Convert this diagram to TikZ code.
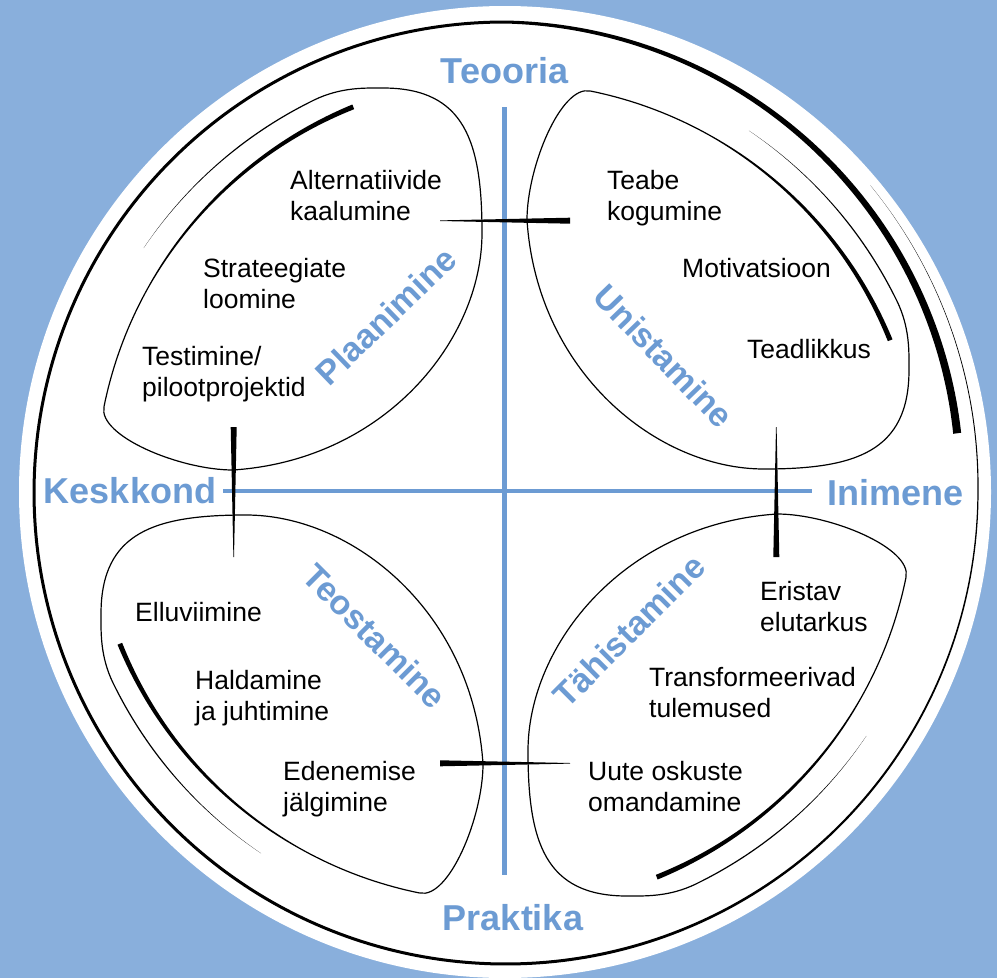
\documentclass[tikz,border=0pt]{standalone}
\usepackage{fontspec}
\setmainfont{Liberation Sans}
\definecolor{bgblue}{RGB}{137,175,220}
\definecolor{lblue}{RGB}{108,155,211}
\newcommand\twoline[2]{\begin{tabular}[t]{@{}l@{}}#1\\#2\end{tabular}}
\newcommand\leafspiral{%
  \fill plot[domain=146:116, samples=40] ({(436+fwid(\x)/2)*cos(\x)}, {-(436+fwid(\x)/2)*sin(\x)})
     -- plot[domain=116:146, samples=40] ({(436-fwid(\x)/2)*cos(\x)}, {-(436-fwid(\x)/2)*sin(\x)}) -- cycle;
  \draw[leafline] (-191.1,-391.9) .. controls (-164.1,-405) and (-140,-404) .. (-122,-404)
     .. controls (-40,-404) and (-23,-350) .. (-23,-259)
     .. controls (-23,-152) and (-120,-32) .. (-272,-22)
     .. controls (-325,-22) and (-407.2,-56) .. (-401,-85.2);
  \fill plot[domain=168:111.5, samples=60] ({(krad(\x)+kwid(\x)/2)*cos(\x)}, {-(krad(\x)+kwid(\x)/2)*sin(\x)})
     -- plot[domain=111.5:168, samples=60] ({(krad(\x)-kwid(\x)/2)*cos(\x)}, {-(krad(\x)-kwid(\x)/2)*sin(\x)}) -- cycle;
}
\begin{document}
\begin{tikzpicture}[x=1pt,y=-1pt,
  declare function={
    orad(\t)=((\t)>=0) ? 473+0.1*(\t) : (((\t)>=-270) ? 473+(\t)/90 : 470-14*(-270-(\t))/82.6);
    owid(\t)=((\t)>=0) ? 1.2*(40-(\t))/40 : (((\t)>=-80) ? 1.2-1.8*(\t)/80 : (((\t)>=-270) ? 3 : 3+5*(-270-(\t))/82.6));
    fwid(\t)=((\t)>=128) ? 1.2*(146-(\t))/18 : 1.2;
    krad(\t)=410+4*(168-(\t))/56.5;
    kwid(\t)=((\t)>=150) ? 1.2 : 1.2+3.8*(150-(\t))/38.5;
  },
  item/.style={font=\fontsize{26.5}{31}\selectfont, inner sep=0pt, anchor=base west},
  axislabel/.style={font=\bfseries\fontsize{36}{43}\selectfont, text=lblue, inner sep=0pt, anchor=base},
  phase/.style={font=\bfseries\fontsize{34}{40}\selectfont, text=lblue, inner sep=0pt},
  axisline/.style={draw=lblue, line width=4.5pt},
  leafline/.style={line width=1.2pt},
  wedge/.style={fill=black}]
\useasboundingbox (0,0) rectangle (997,978);
\fill[bgblue] (0,0) rectangle (997,978);
\fill[white] (505,492) circle[radius=486];
% outer spiral ring
\fill plot[domain=40:-352.6, samples=400] ({505+(orad(\x)+owid(\x)/2)*cos(\x)}, {492-(orad(\x)+owid(\x)/2)*sin(\x)})
   -- plot[domain=-352.6:40, samples=400] ({505+(orad(\x)-owid(\x)/2)*cos(\x)}, {492-(orad(\x)-owid(\x)/2)*sin(\x)}) -- cycle;
% axes
\coordinate (vt) at (504.5,107); \coordinate (vb) at (504.5,875);
\coordinate (hl) at (223,491); \coordinate (hr) at (812,491);
\draw[axisline] (vt) -- (vb);
\draw[axisline] (hl) -- (hr);
% leaves
\begin{scope}[shift={(505,492)}] \leafspiral \end{scope}
\begin{scope}[shift={(505,492)}, rotate=-90] \leafspiral \end{scope}
\begin{scope}[shift={(505,492)}, rotate=-180] \leafspiral \end{scope}
\begin{scope}[shift={(505,492)}, rotate=-270] \leafspiral \end{scope}
% tapered connectors
\coordinate (a1) at (440,220.7); \coordinate (b1) at (570,220.7);
\coordinate (a2) at (776.3,427); \coordinate (b2) at (776.3,557);
\coordinate (a3) at (570,763.3); \coordinate (b3) at (440,763.3);
\coordinate (a4) at (233.7,557); \coordinate (b4) at (233.7,427);
\fill[wedge] ([yshift=0.3pt]a1) -- ([yshift=3pt]b1) -- ([yshift=-3pt]b1) -- ([yshift=-0.3pt]a1) -- cycle;
\fill[wedge] ([xshift=0.3pt]a2) -- ([xshift=3pt]b2) -- ([xshift=-3pt]b2) -- ([xshift=-0.3pt]a2) -- cycle;
\fill[wedge] ([yshift=0.3pt]a3) -- ([yshift=3pt]b3) -- ([yshift=-3pt]b3) -- ([yshift=-0.3pt]a3) -- cycle;
\fill[wedge] ([xshift=0.3pt]a4) -- ([xshift=3pt]b4) -- ([xshift=-3pt]b4) -- ([xshift=-0.3pt]a4) -- cycle;
% axis labels
\node[axislabel] (teo) at (504.5,83) {Teooria};
\node[axislabel] (prak) at (513,930) {Praktika};
\node[axislabel] (kesk) at (130,503) {Keskkond};
\node[axislabel] (inim) at (895.5,505) {Inimene};
% phase labels
\node[phase, rotate=44] (plan) at (386,316) {Plaanimine};
\node[phase, rotate=-46] (unist) at (664,356) {Unistamine};
\node[phase, rotate=-45] (teost) at (375,636) {Teostamine};
\node[phase, rotate=45] (tahis) at (629,631) {Tähistamine};
% items
\node[item] (alt) at (290,189) {\twoline{Alternatiivide}{kaalumine}};
\node[item] (strat) at (203,277) {\twoline{Strateegiate}{loomine}};
\node[item] (test) at (142,365) {\twoline{Testimine/}{pilootprojektid}};
\node[item] (teabe) at (607,189) {\twoline{Teabe}{kogumine}};
\node[item] (motiv) at (682,277) {Motivatsioon};
\node[item] (teadl) at (747,358) {Teadlikkus};
\node[item] (ellu) at (135,621) {Elluviimine};
\node[item] (hald) at (195,689) {\twoline{Haldamine}{ja juhtimine}};
\node[item] (eden) at (283,780) {\twoline{Edenemise}{jälgimine}};
\node[item] (erist) at (760,600) {\twoline{Eristav}{elutarkus}};
\node[item] (trans) at (649,686) {\twoline{Transformeerivad}{tulemused}};
\node[item] (uute) at (588,780) {\twoline{Uute oskuste}{omandamine}};
\end{tikzpicture}
\end{document}
